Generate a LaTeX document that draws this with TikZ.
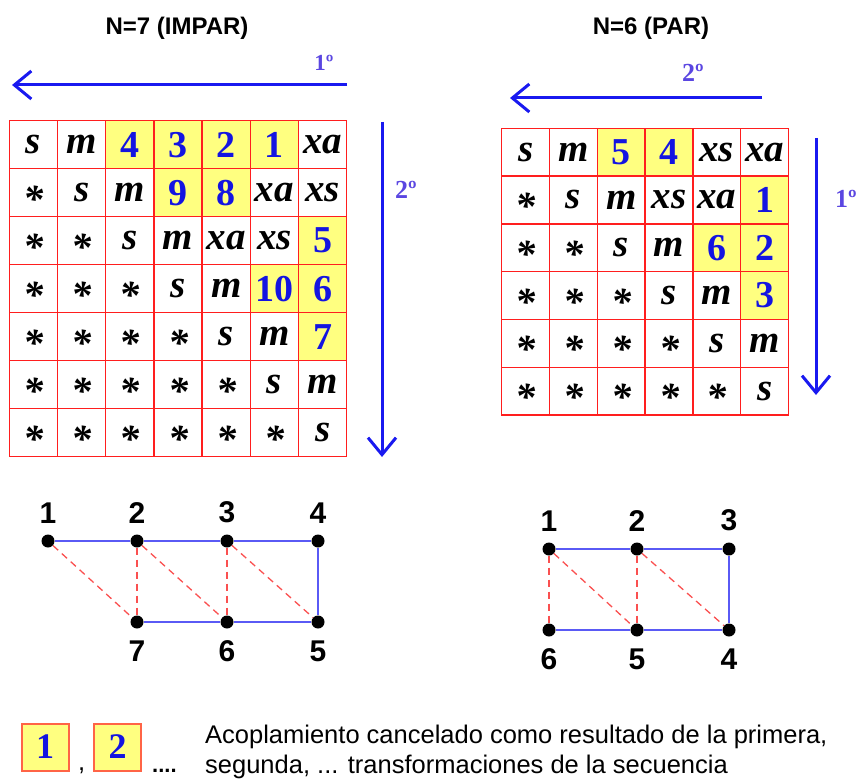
\documentclass[tikz,border=0pt]{standalone}
\usepackage{fontspec}
\setmainfont{Liberation Serif}
\newfontfamily\arialfont{Liberation Sans}
\usetikzlibrary{arrows.meta}
\definecolor{gridred}{RGB}{255,30,30}
\definecolor{cellyellow}{RGB}{255,255,128}
\definecolor{numblue}{RGB}{20,20,225}
\definecolor{arrowblue}{RGB}{25,25,240}
\definecolor{ordblue}{RGB}{90,70,225}
\definecolor{edgeblue}{RGB}{90,90,245}
\definecolor{edgered}{RGB}{250,80,80}
\definecolor{legborder}{RGB}{255,100,70}
\begin{document}
\begin{tikzpicture}[x=1pt,y=-1pt,
  cell/.style={draw=gridred, line width=1.4pt, inner sep=0pt},
  lcell/.style={cell, minimum width=48.2pt, minimum height=48pt},
  rcell/.style={cell, minimum width=47.8pt, minimum height=47.8pt},
  lt/.style={font=\fontsize{39}{39}\selectfont\bfseries\itshape},
  st/.style={font=\fontsize{40}{40}\selectfont\bfseries\itshape, text height=39pt, text depth=0pt},
  nb/.style={fill=cellyellow, text=numblue, font=\fontsize{38}{38}\selectfont\bfseries},
  title/.style={font=\arialfont\bfseries\fontsize{24}{24}\selectfont, inner sep=0pt},
  ord/.style={text=ordblue, font=\fontsize{26}{26}\selectfont\bfseries, inner sep=0pt},
  bigarrow/.style={draw=arrowblue, line width=3pt, -{Straight Barb[length=17pt,width=28pt]}},
  dot/.style={circle, fill=black, inner sep=0pt, minimum size=13pt},
  glab/.style={font=\arialfont\bfseries\fontsize{30}{30}\selectfont, inner sep=0pt},
  bedge/.style={draw=edgeblue, line width=1.6pt},
  redge/.style={draw=edgered, line width=1.3pt, dash pattern=on 7pt off 5pt},
  legbox/.style={draw=legborder, line width=2pt, fill=cellyellow, minimum size=47pt, inner sep=0pt,
                 text=numblue, font=\fontsize{36}{36}\selectfont\bfseries},
  legtext/.style={font=\arialfont\fontsize{25.5}{25.5}\selectfont, inner sep=0pt, anchor=base west}
]
\useasboundingbox (0,0) rectangle (857,781);

% ---------- titles ----------
\node[title] (t-odd) at (177,28) {N=7 (IMPAR)};
\node[title] (t-even) at (651,28) {N=6 (PAR)};

% ---------- 7 x 7 matrix ----------
\foreach \row [count=\r] in {
  {lt/s,lt/m,nb/4,nb/3,nb/2,nb/1,lt/xa},
  {st/*,lt/s,lt/m,nb/9,nb/8,lt/xa,lt/xs},
  {st/*,st/*,lt/s,lt/m,lt/xa,lt/xs,nb/5},
  {st/*,st/*,st/*,lt/s,lt/m,nb/10,nb/6},
  {st/*,st/*,st/*,st/*,lt/s,lt/m,nb/7},
  {st/*,st/*,st/*,st/*,st/*,lt/s,lt/m},
  {st/*,st/*,st/*,st/*,st/*,st/*,lt/s}} {
  \foreach \sty/\t [count=\c] in \row {
    \node[lcell,\sty] (L-\r-\c) at ({9.3+(\c-0.5)*48.2},{120.7+(\r-0.5)*48}) {\t};
  }
}

% ---------- 6 x 6 matrix ----------
\foreach \row [count=\r] in {
  {lt/s,lt/m,nb/5,nb/4,lt/xs,lt/xa},
  {st/*,lt/s,lt/m,lt/xs,lt/xa,nb/1},
  {st/*,st/*,lt/s,lt/m,nb/6,nb/2},
  {st/*,st/*,st/*,lt/s,lt/m,nb/3},
  {st/*,st/*,st/*,st/*,lt/s,lt/m},
  {st/*,st/*,st/*,st/*,st/*,lt/s}} {
  \foreach \sty/\t [count=\c] in \row {
    \node[rcell,\sty] (R-\r-\c) at ({501.7+(\c-0.5)*47.8},{128.3+(\r-0.5)*47.8}) {\t};
  }
}

% ---------- sweep arrows ----------
\coordinate (la-s) at (347,85);  \coordinate (la-e) at (12,85);
\coordinate (ld-s) at (382,122); \coordinate (ld-e) at (382,457);
\coordinate (ra-s) at (762,98);  \coordinate (ra-e) at (510,98);
\coordinate (rd-s) at (816,138); \coordinate (rd-e) at (816,395);
\draw[bigarrow] (la-s) -- (la-e);
\draw[bigarrow] (ld-s) -- (ld-e);
\draw[bigarrow] (ra-s) -- (ra-e);
\draw[bigarrow] (rd-s) -- (rd-e);
\node[ord, font=\fontsize{23}{23}\selectfont\bfseries] (o-l1) at (324,63) {1º};
\node[ord] (o-l2) at (406,190) {2º};
\node[ord] (o-r2) at (693,73) {2º};
\node[ord] (o-r1) at (846,199) {1º};

% ---------- coupling graph, N = 7 ----------
\node[dot, label={[glab,label distance=11pt]above:1}] (a1) at (48,541) {};
\node[dot, label={[glab,label distance=11pt]above:2}] (a2) at (137,541) {};
\node[dot, label={[glab,label distance=11pt]above:3}] (a3) at (227,541) {};
\node[dot, label={[glab,label distance=11pt]above:4}] (a4) at (318,541) {};
\node[dot, label={[glab,label distance=12pt]below:5}] (a5) at (318,622) {};
\node[dot, label={[glab,label distance=12pt]below:6}] (a6) at (227,622) {};
\node[dot, label={[glab,label distance=12pt]below:7}] (a7) at (137,622) {};
\draw[bedge] (a1) -- (a2) -- (a3) -- (a4) -- (a5) -- (a6) -- (a7);
\draw[redge] (a1) -- (a7);
\draw[redge] (a2) -- (a7);
\draw[redge] (a2) -- (a6);
\draw[redge] (a3) -- (a6);
\draw[redge] (a3) -- (a5);

% ---------- coupling graph, N = 6 ----------
\node[dot, label={[glab,label distance=11pt]above:1}] (b1) at (549,549) {};
\node[dot, label={[glab,label distance=11pt]above:2}] (b2) at (637,549) {};
\node[dot, label={[glab,label distance=11pt]above:3}] (b3) at (729,549) {};
\node[dot, label={[glab,label distance=12pt]below:4}] (b4) at (729,630) {};
\node[dot, label={[glab,label distance=12pt]below:5}] (b5) at (637,630) {};
\node[dot, label={[glab,label distance=12pt]below:6}] (b6) at (549,630) {};
\draw[bedge] (b1) -- (b2) -- (b3) -- (b4) -- (b5) -- (b6);
\draw[redge] (b1) -- (b6);
\draw[redge] (b1) -- (b5);
\draw[redge] (b2) -- (b5);
\draw[redge] (b2) -- (b4);

% ---------- legend ----------
\node[legbox] (k1) at (45,747) {1};
\node[legbox] (k2) at (117.5,747) {2};
\node[legtext] (k-comma) at (78,770) {,};
\node[font=\arialfont\bfseries\fontsize{22}{22}\selectfont, inner sep=0pt, anchor=base west] (k-dots) at (152,772) {....};
\node[legtext] (k-line1) at (205,743.5) {Acoplamiento cancelado como resultado de la primera,};
\node[legtext] (k-line2) at (205,773) {segunda, ... transformaciones de la secuencia};
\end{tikzpicture}
\end{document}
